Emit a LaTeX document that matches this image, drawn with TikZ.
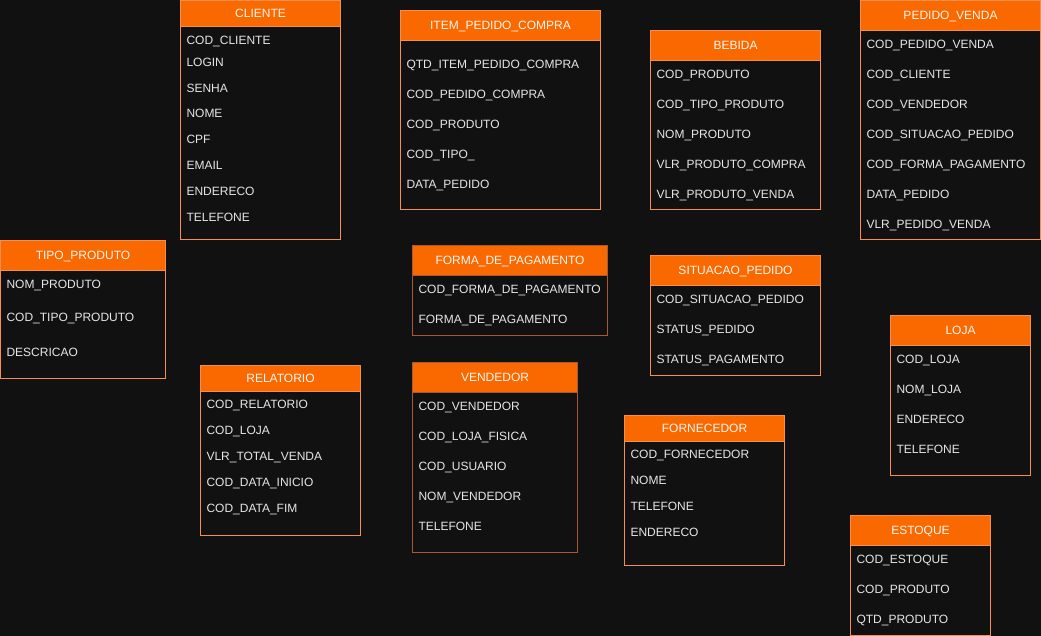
\documentclass[tikz,border=0pt]{standalone}
\usepackage{fontspec}
\setmainfont{Liberation Sans}
\usepackage{tikz}
\definecolor{fundo}{HTML}{111111}
\definecolor{laranja}{HTML}{FA6800}
\definecolor{borda}{HTML}{F58F50}
\definecolor{bordamarrom}{HTML}{A9582F}
\definecolor{textoclaro}{HTML}{E6E6E6}
\tikzset{
  every node/.style={font=\fontsize{12}{14}\selectfont, inner sep=0pt, outer sep=0pt},
  cabecalho/.style={draw=borda, fill=laranja, line width=1pt, text=white!95!laranja,
    text height=8.6pt, text depth=0pt, align=center},
  corpo/.style={draw=borda, fill=fundo, line width=1pt},
  campo/.style={text=textoclaro, text height=8.6pt, text depth=0pt, anchor=west},
  marrom/.style={draw=bordamarrom},
}
% tabela: [estilo]{nome}{x}{y}{largura}{cabecalho}{base}{titulo}{y/campo,...}
\newcommand{\tabela}[9][]{%
  \node[corpo, #1, minimum width=#5, minimum height=#7-#4, anchor=north west] (#2-corpo) at (#3,#4) {};
  \node[cabecalho, #1, minimum width=#5, minimum height=#6, anchor=north west] (#2) at (#3,#4) {#8};
  \foreach \py/\campo [count=\i] in {#9}
    \node[campo] (#2-\i) at (#3+6,\py) {\campo};
}

\begin{document}
\begin{tikzpicture}[x=1pt,y=-1pt]
\useasboundingbox (0,0) rectangle (1041,636);
\fill[fundo] (0,0) rectangle (1041,636);

\tabela{cliente}{180.5}{0.5}{160}{26}{240}{CLIENTE}
  {40/COD\_CLIENTE, 62/LOGIN, 88/SENHA, 113/NOME, 139/CPF, 165/EMAIL, 191/ENDERECO, 217/TELEFONE}
\tabela{tipoproduto}{0.5}{240.5}{165}{30}{378}{TIPO\_PRODUTO}
  {284/NOM\_PRODUTO, 317/COD\_TIPO\_PRODUTO, 352/DESCRICAO}
\tabela{itempedido}{400.5}{10.5}{200}{30}{210}{ITEM\_PEDIDO\_COMPRA}
  {64/QTD\_ITEM\_PEDIDO\_COMPRA, 94/COD\_PEDIDO\_COMPRA, 124/COD\_PRODUTO, 154/COD\_TIPO\_, 184/DATA\_PEDIDO}
\tabela{bebida}{650.5}{30.5}{170}{30}{210}{BEBIDA}
  {74/COD\_PRODUTO, 104/COD\_TIPO\_PRODUTO, 134/NOM\_PRODUTO, 164/VLR\_PRODUTO\_COMPRA, 194/VLR\_PRODUTO\_VENDA}
\tabela{pedidovenda}{860.5}{0.5}{180}{30}{240}{PEDIDO\_VENDA}
  {44/COD\_PEDIDO\_VENDA, 74/COD\_CLIENTE, 104/COD\_VENDEDOR, 134/COD\_SITUACAO\_PEDIDO,
   164/COD\_FORMA\_PAGAMENTO, 194/DATA\_PEDIDO, 224/VLR\_PEDIDO\_VENDA}
\tabela[marrom]{formapagamento}{412.5}{245.5}{195}{30}{335}{FORMA\_DE\_PAGAMENTO}
  {289/COD\_FORMA\_DE\_PAGAMENTO, 319/FORMA\_DE\_PAGAMENTO}
\tabela{situacao}{650.5}{255.5}{170}{30}{375}{SITUACAO\_PEDIDO}
  {299/COD\_SITUACAO\_PEDIDO, 329/STATUS\_PEDIDO, 359/STATUS\_PAGAMENTO}
\tabela{loja}{890.5}{315.5}{140}{30}{475}{LOJA}
  {359/COD\_LOJA, 389/NOM\_LOJA, 419/ENDERECO, 449/TELEFONE}
\tabela{relatorio}{200.5}{365.5}{160}{26}{535}{RELATORIO}
  {404/COD\_RELATORIO, 430/COD\_LOJA, 456/VLR\_TOTAL\_VENDA, 482/COD\_DATA\_INICIO, 508/COD\_DATA\_FIM}
\tabela[marrom]{vendedor}{412.5}{362.5}{165}{30}{552}{VENDEDOR}
  {406/COD\_VENDEDOR, 436/COD\_LOJA\_FISICA, 466/COD\_USUARIO, 496/NOM\_VENDEDOR, 526/TELEFONE}
\tabela{fornecedor}{624.5}{415.5}{160}{26}{565}{FORNECEDOR}
  {454/COD\_FORNECEDOR, 480/NOME, 506/TELEFONE, 532/ENDERECO}
\tabela{estoque}{850.5}{515.5}{140}{30}{635}{ESTOQUE}
  {559/COD\_ESTOQUE, 589/COD\_PRODUTO, 619/QTD\_PRODUTO}
\end{tikzpicture}
\end{document}
